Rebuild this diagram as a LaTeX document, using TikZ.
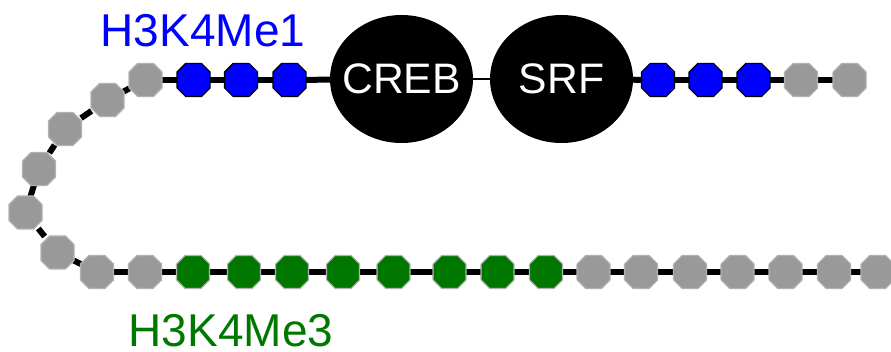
\documentclass[tikz,border=0pt]{standalone}
\usepackage{fontspec}
\setmainfont{Liberation Sans}
\usetikzlibrary{shapes.geometric}
\definecolor{nucgray}{RGB}{153,153,153}
\definecolor{nucedge}{RGB}{178,178,178}
\definecolor{megreen}{RGB}{0,120,0}
\definecolor{meblue}{RGB}{0,0,255}
\tikzset{
  nucbox/.style={rectangle, minimum size=24pt, inner sep=0pt, outer sep=0pt},
  nuc/.style={line width=0.8pt, line join=miter},
  plain/.style={nuc, fill=nucgray, draw=nucedge},
  monome/.style={nuc, fill=meblue, draw=black},
  trime/.style={nuc, fill=megreen, draw=nucedge},
  factor/.style={ellipse, fill=black, minimum width=107.25pt, minimum height=96pt,
    inner sep=0pt, outer sep=0pt, text=white, font=\fontsize{32}{36}\selectfont},
  dna/.style={line width=4.5pt, black},
  thindna/.style={line width=1.9pt, black},
  histlabel/.style={font=\fontsize{34.5}{40}\selectfont, inner sep=0pt, anchor=base}
}
\begin{document}
\begin{tikzpicture}[x=0.75pt, y=-0.75pt]
\useasboundingbox (0,0) rectangle (891,352);
% top strand
\node[nucbox] (t1) at (145.5,80) {};
\node[nucbox] (t2) at (193.5,80) {};
\node[nucbox] (t3) at (241,80) {};
\node[nucbox] (t4) at (289.5,80) {};
\node[factor] (creb) at (401.5,79) {\makebox[0pt]{CREB}};
\node[factor] (srf) at (561.5,79) {\makebox[0pt]{SRF}};
\node[nucbox] (t5) at (658,80) {};
\node[nucbox] (t6) at (705.5,80) {};
\node[nucbox] (t7) at (753.5,80) {};
\node[nucbox] (t8) at (801,80) {};
\node[nucbox] (t9) at (849.5,80) {};
% loop
\node[nucbox] (a1) at (107.5,100) {};
\node[nucbox] (a2) at (65,129) {};
\node[nucbox] (a3) at (39,169) {};
\node[nucbox] (a4) at (25.5,212.5) {};
\node[nucbox] (a5) at (57.5,252.5) {};
% bottom strand
\node[nucbox] (b1) at (97,272) {};
\node[nucbox] (b2) at (145,272) {};
\node[nucbox] (b3) at (193,272) {};
\node[nucbox] (b4) at (244,272) {};
\node[nucbox] (b5) at (292,272) {};
\node[nucbox] (b6) at (343,272) {};
\node[nucbox] (b7) at (393.5,272) {};
\node[nucbox] (b8) at (449.5,272) {};
\node[nucbox] (b9) at (497.5,272) {};
\node[nucbox] (b10) at (546,272) {};
\node[nucbox] (b11) at (593.5,272) {};
\node[nucbox] (b12) at (641,272) {};
\node[nucbox] (b13) at (690,272) {};
\node[nucbox] (b14) at (737.5,272) {};
\node[nucbox] (b15) at (785.5,272) {};
\node[nucbox] (b16) at (834,272) {};
\node[nucbox] (b17) at (877.5,272) {};
% linker DNA
\foreach \p/\q in {t1/t2,t2/t3,t3/t4,t4/creb,srf/t5,t5/t6,t6/t7,t7/t8,t8/t9,
  t1/a1,a1/a2,a2/a3,a3/a4,a4/a5,a5/b1,
  b1/b2,b2/b3,b3/b4,b4/b5,b5/b6,b6/b7,b7/b8,b8/b9,b9/b10,b10/b11,
  b11/b12,b12/b13,b13/b14,b14/b15,b15/b16,b16/b17}
  \draw[dna] (\p) -- (\q);
\draw[thindna] (creb) -- (srf);
% nucleosomes as octagons over the linker
\foreach \n/\s in {t1/plain,t2/monome,t3/monome,t4/monome,t5/monome,t6/monome,
  t7/monome,t8/plain,t9/plain,a1/plain,a2/plain,a3/plain,a4/plain,a5/plain,
  b1/plain,b2/plain,b3/trime,b4/trime,b5/trime,b6/trime,b7/trime,b8/trime,
  b9/trime,b10/trime,b11/plain,b12/plain,b13/plain,b14/plain,b15/plain,
  b16/plain,b17/plain}
  \draw[\s] ([shift={(-16.5,-8)}]\n.center) -- ([shift={(-8,-16.5)}]\n.center)
    -- ([shift={(8,-16.5)}]\n.center) -- ([shift={(16.5,-8)}]\n.center)
    -- ([shift={(16.5,8)}]\n.center) -- ([shift={(8,16.5)}]\n.center)
    -- ([shift={(-8,16.5)}]\n.center) -- ([shift={(-16.5,8)}]\n.center) -- cycle;
% labels
\node[histlabel, text=meblue] (lbl1) at (203,46.5) {H3K4Me1};
\node[histlabel, text=megreen] (lbl3) at (231,346.5) {H3K4Me3};
\end{tikzpicture}
\end{document}
